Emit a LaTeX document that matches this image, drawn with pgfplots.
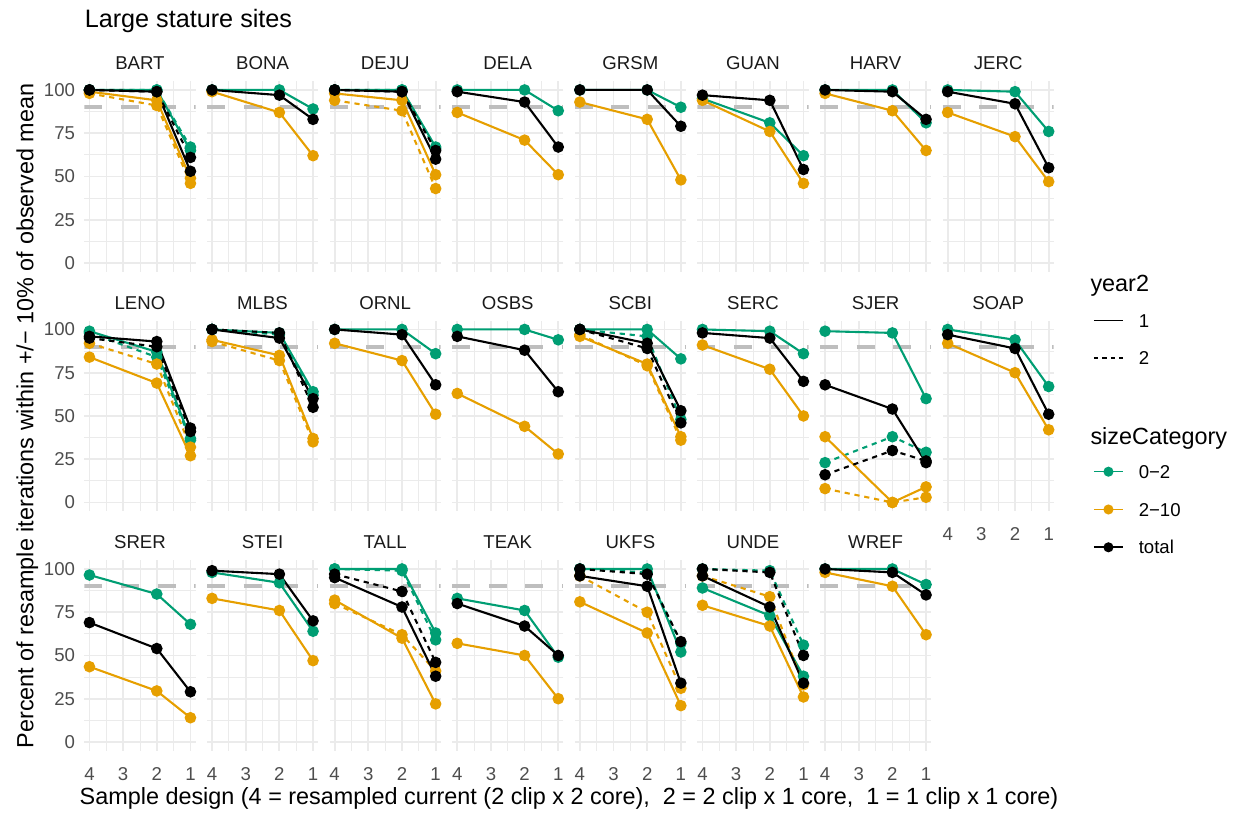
\documentclass[border=0pt]{standalone}
\usepackage{pgfplots}
\pgfplotsset{compat=1.18}
\usepgfplotslibrary{groupplots}
\usetikzlibrary{calc}
\usepackage{fontspec}
\setmainfont{Liberation Sans}

\definecolor{cgreen}{HTML}{009E73}
\definecolor{corange}{HTML}{E69F00}
\definecolor{grid92}{HTML}{EBEBEB}
\definecolor{grey30}{HTML}{4D4D4D}
\definecolor{grey10}{HTML}{1A1A1A}
\definecolor{refgrey}{HTML}{BEBEBE}

\pgfplotsset{
  base/.style={line width=1.05pt, mark=*, mark size=2.35pt, mark options={solid}},
  g1/.style={base, color=cgreen},
  o1/.style={base, color=corange},
  k1/.style={base, color=black},
  g2/.style={g1, dash pattern=on 2.6pt off 2.4pt},
  o2/.style={o1, dash pattern=on 2.6pt off 2.4pt},
  k2/.style={k1, dash pattern=on 2.6pt off 2.4pt},
  xl/.style={xticklabels={1,2,3,4}},
}
% 90 % reference line
\newcommand{\target}{\addplot[refgrey, line width=1.8pt, dash pattern=on 9pt off 9.3pt, forget plot] coordinates {(4.15,90) (0.85,90)};}
\newcommand{\tickfont}{\fontsize{9.3}{11}\selectfont}
\newcommand{\titlefont}{\fontsize{11.7}{14}\selectfont}

\begin{document}
\begin{tikzpicture}
\begin{groupplot}[
  group style={group size=8 by 3, horizontal sep=5.75pt, vertical sep=24.6pt, yticklabels at=edge left},
  width=55.55pt, height=95.15pt, scale only axis,
  xmin=0.85, xmax=4.15, x dir=reverse, ymin=-5, ymax=105,
  xtick={1,2,3,4}, ytick={0,25,50,75,100},
  minor xtick={1.5,2.5,3.5}, minor ytick={12.5,37.5,62.5,87.5},
  xticklabels={},
  grid=both,
  major grid style={draw=grid92, line width=0.9pt},
  minor grid style={draw=grid92, line width=0.45pt},
  axis line style={draw=none},
  major tick length=0pt, minor tick length=0pt,
  tick style={draw=none},
  /pgf/number format/assume math mode=true,
  ticklabel style={font=\tickfont, text=grey30, inner sep=0pt},
  yticklabel style={anchor=east, xshift=-4.5pt},
  xticklabel style={anchor=base, yshift=-14.93pt},
  every axis title/.style={at={(0.5,1)}, anchor=base, yshift=5.82pt, inner sep=0pt, font=\tickfont, text=grey10},
]
% ---------------- row 1
\nextgroupplot[title=BART]
\target
\addplot[g1] coordinates {(4,100) (2,100) (1,65)};
\addplot[g2] coordinates {(4,100) (2,100) (1,67)};
\addplot[o1] coordinates {(4,99) (2,94) (1,49)};
\addplot[o2] coordinates {(4,98) (2,91) (1,46)};
\addplot[k1] coordinates {(4,100) (2,99) (1,53)};
\addplot[k2] coordinates {(4,100) (2,99) (1,61)};

\nextgroupplot[title=BONA]
\target
\addplot[g1] coordinates {(4,100) (2,100) (1,89)};
\addplot[o1] coordinates {(4,99) (2,87) (1,62)};
\addplot[k1] coordinates {(4,100) (2,97) (1,83)};

\nextgroupplot[title=DEJU]
\target
\addplot[g1] coordinates {(4,100) (2,100) (1,67)};
\addplot[g2] coordinates {(4,100) (2,100) (1,66)};
\addplot[o1] coordinates {(4,98) (2,94) (1,51)};
\addplot[o2] coordinates {(4,94) (2,88) (1,43)};
\addplot[k1] coordinates {(4,100) (2,99) (1,60)};
\addplot[k2] coordinates {(4,100) (2,99) (1,65)};

\nextgroupplot[title=DELA]
\target
\addplot[g1] coordinates {(4,100) (2,100) (1,88)};
\addplot[o1] coordinates {(4,87) (2,71) (1,51)};
\addplot[k1] coordinates {(4,99) (2,93) (1,67)};

\nextgroupplot[title=GRSM]
\target
\addplot[g1] coordinates {(4,100) (2,100) (1,90)};
\addplot[o1] coordinates {(4,93) (2,83) (1,48)};
\addplot[k1] coordinates {(4,100) (2,100) (1,79)};

\nextgroupplot[title=GUAN]
\target
\addplot[g1] coordinates {(4,95) (2,81) (1,62)};
\addplot[o1] coordinates {(4,94) (2,76) (1,46)};
\addplot[k1] coordinates {(4,97) (2,94) (1,54)};

\nextgroupplot[title=HARV]
\target
\addplot[g1] coordinates {(4,100) (2,100) (1,81)};
\addplot[o1] coordinates {(4,98) (2,88) (1,65)};
\addplot[k1] coordinates {(4,100) (2,99) (1,83)};

\nextgroupplot[title=JERC]
\target
\addplot[g1] coordinates {(4,100) (2,99) (1,76)};
\addplot[o1] coordinates {(4,87) (2,73) (1,47)};
\addplot[k1] coordinates {(4,99) (2,92) (1,55)};

% ---------------- row 2
\nextgroupplot[title=LENO]
\target
\addplot[g1] coordinates {(4,99) (2,87) (1,37)};
\addplot[g2] coordinates {(4,98) (2,84) (1,36)};
\addplot[o1] coordinates {(4,84) (2,69) (1,27)};
\addplot[o2] coordinates {(4,92) (2,80) (1,32)};
\addplot[k1] coordinates {(4,96) (2,93) (1,43)};
\addplot[k2] coordinates {(4,95) (2,90) (1,41)};

\nextgroupplot[title=MLBS]
\target
\addplot[g1] coordinates {(4,100) (2,98) (1,64)};
\addplot[g2] coordinates {(4,100) (2,97) (1,62)};
\addplot[o1] coordinates {(4,94) (2,85) (1,37)};
\addplot[o2] coordinates {(4,93) (2,82) (1,35)};
\addplot[k1] coordinates {(4,100) (2,95) (1,60)};
\addplot[k2] coordinates {(4,100) (2,98) (1,55)};

\nextgroupplot[title=ORNL]
\target
\addplot[g1] coordinates {(4,100) (2,100) (1,86)};
\addplot[o1] coordinates {(4,92) (2,82) (1,51)};
\addplot[k1] coordinates {(4,100) (2,97) (1,68)};

\nextgroupplot[title=OSBS]
\target
\addplot[g1] coordinates {(4,100) (2,100) (1,94)};
\addplot[o1] coordinates {(4,63) (2,44) (1,28)};
\addplot[k1] coordinates {(4,96) (2,88) (1,64)};

\nextgroupplot[title=SCBI]
\target
\addplot[g1] coordinates {(4,100) (2,100) (1,83)};
\addplot[g2] coordinates {(4,100) (2,96) (1,48)};
\addplot[o1] coordinates {(4,96) (2,80) (1,38)};
\addplot[o2] coordinates {(4,97) (2,79) (1,36)};
\addplot[k1] coordinates {(4,100) (2,92) (1,53)};
\addplot[k2] coordinates {(4,100) (2,89) (1,46)};

\nextgroupplot[title=SERC]
\target
\addplot[g1] coordinates {(4,100) (2,99) (1,86)};
\addplot[o1] coordinates {(4,91) (2,77) (1,50)};
\addplot[k1] coordinates {(4,98) (2,95) (1,70)};

\nextgroupplot[title=SJER]
\target
\addplot[g1] coordinates {(4,99) (2,98) (1,60)};
\addplot[g2] coordinates {(4,23) (2,38) (1,29)};
\addplot[o1] coordinates {(4,38) (2,0) (1,9)};
\addplot[o2] coordinates {(4,8) (2,0) (1,3)};
\addplot[k1] coordinates {(4,68) (2,54) (1,23)};
\addplot[k2] coordinates {(4,16) (2,30) (1,24)};

\nextgroupplot[title=SOAP, xl,
  legend style={at={(1.355,1.0366)}, anchor=north west, draw=none, fill=none,
    inner sep=0pt, outer sep=0pt, row sep=12.24pt,
    nodes={inner sep=0pt, text height=6.66pt, text depth=0pt, font=\tickfont},
    /tikz/every odd column/.append style={column sep=7.5pt}},
  legend cell align=left,
  legend image code/.code={\draw[mark repeat=2,mark phase=2,#1] plot coordinates {(0pt,0pt) (7.25pt,0pt) (14.5pt,0pt)};}]
\addlegendimage{black, line width=0.8pt, no marks}\addlegendentry{1}
\addlegendimage{black, line width=0.8pt, no marks, dash pattern=on 2.2pt off 2pt}\addlegendentry{2}
\addlegendimage{empty legend}\addlegendentry{}
\addlegendimage{empty legend}\addlegendentry{}
\addlegendimage{g1, line width=0.8pt, mark size=2.1pt}\addlegendentry{0−2}
\addlegendimage{o1, line width=0.8pt, mark size=2.1pt}\addlegendentry{2−10}
\addlegendimage{k1, line width=0.8pt, mark size=2.1pt}\addlegendentry{total}
\target
\addplot[g1] coordinates {(4,100) (2,94) (1,67)};
\addplot[o1] coordinates {(4,92) (2,75) (1,42)};
\addplot[k1] coordinates {(4,97) (2,89) (1,51)};

% ---------------- row 3
\nextgroupplot[title=SRER, xl]
\target
\addplot[g1] coordinates {(4,96.5) (2,85.5) (1,68)};
\addplot[o1] coordinates {(4,43.5) (2,29.5) (1,14)};
\addplot[k1] coordinates {(4,69) (2,54) (1,29)};

\nextgroupplot[title=STEI, xl]
\target
\addplot[g1] coordinates {(4,98) (2,92) (1,64)};
\addplot[o1] coordinates {(4,83) (2,76) (1,47)};
\addplot[k1] coordinates {(4,99) (2,97) (1,70)};

\nextgroupplot[title=TALL, xl]
\target
\addplot[g1] coordinates {(4,100) (2,100) (1,63)};
\addplot[g2] coordinates {(4,100) (2,99) (1,59)};
\addplot[o1] coordinates {(4,82) (2,60) (1,22)};
\addplot[o2] coordinates {(4,80) (2,62) (1,41)};
\addplot[k1] coordinates {(4,95) (2,78) (1,38)};
\addplot[k2] coordinates {(4,97) (2,87) (1,46)};

\nextgroupplot[title=TEAK, xl]
\target
\addplot[g1] coordinates {(4,83) (2,76) (1,49)};
\addplot[o1] coordinates {(4,57) (2,50) (1,25)};
\addplot[k1] coordinates {(4,80) (2,67) (1,50)};

\nextgroupplot[title=UKFS, xl]
\target
\addplot[g1] coordinates {(4,100) (2,100) (1,52)};
\addplot[g2] coordinates {(4,100) (2,98) (1,57)};
\addplot[o1] coordinates {(4,81) (2,63) (1,21)};
\addplot[o2] coordinates {(4,96) (2,75) (1,31)};
\addplot[k1] coordinates {(4,96) (2,90) (1,34)};
\addplot[k2] coordinates {(4,100) (2,97) (1,58)};

\nextgroupplot[title=UNDE, xl]
\target
\addplot[g1] coordinates {(4,89) (2,73) (1,38)};
\addplot[g2] coordinates {(4,100) (2,99) (1,56)};
\addplot[o1] coordinates {(4,79) (2,67) (1,26)};
\addplot[o2] coordinates {(4,96) (2,84) (1,33)};
\addplot[k1] coordinates {(4,96) (2,78) (1,34)};
\addplot[k2] coordinates {(4,100) (2,98) (1,50)};

\nextgroupplot[title=WREF, xl]
\target
\addplot[g1] coordinates {(4,100) (2,100) (1,91)};
\addplot[o1] coordinates {(4,98) (2,90) (1,62)};
\addplot[k1] coordinates {(4,100) (2,98) (1,85)};
\end{groupplot}

% titles and axis labels
\node[anchor=base west, inner sep=0pt, font=\fontsize{12.6}{15}\selectfont, yshift=27pt] at (group c1r1.north west) {Large stature sites};
\node[rotate=90, anchor=base, inner sep=0pt, font=\titlefont]
  at ($(group c1r1.north west)!0.5!(group c1r3.south west)+(-25.5pt,0)$)
  {Percent of resample iterations within +/− 10\% of observed mean};
\node[anchor=base, inner sep=0pt, font=\titlefont]
  at ($(group c1r3.south west)!0.5!(group c8r2.south east |- group c1r3.south west)+(0,-26.85pt)$)
  {Sample design (4 = resampled current (2 clip x 2 core),\ \ 2 = 2 clip x 1 core,\ \ 1 = 1 clip x 1 core)};
\node[anchor=base west, inner sep=0pt, font=\titlefont, xshift=18.2pt, yshift=14.45pt] at (group c8r2.north east) {year2};
\node[anchor=base west, inner sep=0pt, font=\titlefont, xshift=18.2pt, yshift=-62.05pt] at (group c8r2.north east) {sizeCategory};

\pgfresetboundingbox
\path[use as bounding box] ([xshift=-42.2pt, yshift=40.65pt]group c1r1.north west) rectangle ([xshift=574.8pt, yshift=-365.35pt]group c1r1.north west);
\end{tikzpicture}
\end{document}
